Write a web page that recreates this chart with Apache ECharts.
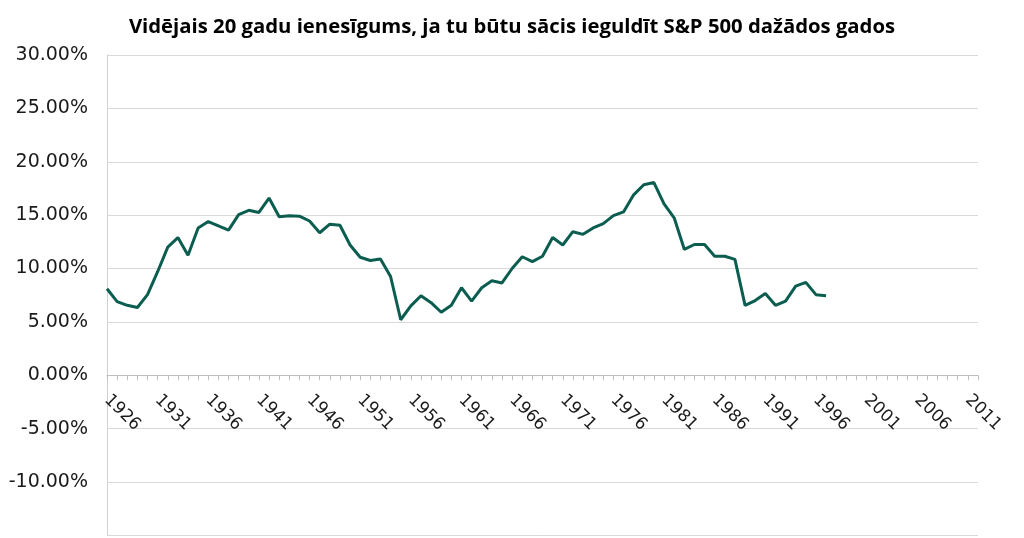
<!DOCTYPE html>
<html>
<head>
<meta charset="utf-8">
<script src="https://cdn.jsdelivr.net/npm/echarts@6/dist/echarts.min.js"></script>
<style>
html,body{margin:0;padding:0;background:#fff;}
#chart{width:1024px;height:538px;}
</style>
</head>
<body>
<div id="chart"></div>
<script>
const titleText = 'Vidējais 20 gadu ienesīgums, ja tu būtu sācis ieguldīt S&P 500 dažādos gados';

const years = [
  '1926','1927','1928','1929','1930','1931','1932','1933','1934','1935',
  '1936','1937','1938','1939','1940','1941','1942','1943','1944','1945',
  '1946','1947','1948','1949','1950','1951','1952','1953','1954','1955',
  '1956','1957','1958','1959','1960','1961','1962','1963','1964','1965',
  '1966','1967','1968','1969','1970','1971','1972','1973','1974','1975',
  '1976','1977','1978','1979','1980','1981','1982','1983','1984','1985',
  '1986','1987','1988','1989','1990','1991','1992','1993','1994','1995',
  '1996','1997','1998','1999','2000','2001','2002','2003','2004','2005',
  '2006','2007','2008','2009','2010','2011','2012'
];

// average 20-year return (%) by starting year
const avgReturn = [
  8.1, 6.9, 6.55, 6.35, 7.55, 9.7, 12.0, 12.9, 11.25, 13.8,
  14.4, 14.0, 13.6, 15.05, 15.45, 15.25, 16.6, 14.85, 14.95, 14.9,
  14.45, 13.35, 14.15, 14.05, 12.2, 11.05, 10.75, 10.9, 9.25, 5.2,
  6.5, 7.45, 6.8, 5.9, 6.55, 8.2, 6.95, 8.2, 8.85, 8.65,
  10.0, 11.1, 10.65, 11.15, 12.9, 12.2, 13.45, 13.2, 13.8, 14.2,
  14.95, 15.3, 16.9, 17.85, 18.05, 16.05, 14.75, 11.8, 12.25, 12.25,
  11.15, 11.15, 10.85, 6.55, 7.0, 7.65, 6.55, 6.95, 8.35, 8.7,
  7.55, 7.45
];

const yMin = -15, yMax = 30, yStep = 5;

const gridTop = 55, gridBottom = 2.6, chartH = 538;
const plotH = chartH - gridTop - gridBottom;
// x axis sits on the 0% line: shift it up from the grid bottom
const zeroOffset = -plotH * (0 - yMin) / (yMax - yMin);

const chart = echarts.init(document.getElementById('chart'), null, {renderer:'canvas'});
chart.setOption({
  animation: false,
  backgroundColor: '#ffffff',
  title: {
    text: titleText,
    left: 'center',
    top: 12,
    textStyle: {fontFamily: 'Open Sans', fontWeight: 'bold', fontSize: 20.3, color: '#000000'}
  },
  grid: {left: 107, right: 46, top: gridTop, bottom: gridBottom, containLabel: false, outerBoundsMode: 'none'},
  xAxis: {
    type: 'category',
    data: years,
    boundaryGap: false,
    offset: zeroOffset,
    axisLine: {show: true, onZero: false, lineStyle: {color: '#bfbfbf', width: 1}},
    axisTick: {show: true, interval: 0, length: 5, lineStyle: {color: '#bfbfbf'}},
    axisLabel: {
      interval: 4, rotate: -45, margin: 22,
      fontFamily: 'DejaVu Sans', fontSize: 17, color: '#1a1a1a'
    },
    splitLine: {show: false}
  },
  yAxis: {
    type: 'value',
    min: yMin, max: yMax, interval: yStep,
    axisLine: {show: true, lineStyle: {color: '#d0d0d0', width: 1}},
    axisTick: {show: false},
    axisLabel: {
      showMinLabel: false,
      margin: 19,
      fontFamily: 'DejaVu Sans', fontSize: 19, color: '#1a1a1a',
      formatter: v => v.toFixed(2) + '%'
    },
    splitLine: {show: true, lineStyle: {color: '#d9d9d9', width: 1}}
  },
  series: [{
    type: 'line',
    data: avgReturn,
    showSymbol: false,
    symbol: 'none',
    lineStyle: {color: '#0b5e4f', width: 3},
    itemStyle: {color: '#0b5e4f'}
  }]
});
</script>
</body>
</html>
